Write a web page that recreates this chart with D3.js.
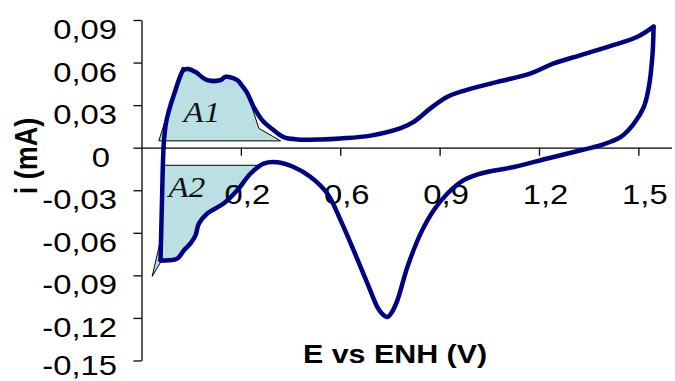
<!DOCTYPE html>
<html>
<head>
<meta charset="utf-8">
<script src="https://cdn.jsdelivr.net/npm/d3@7"></script>
<style>
  html, body { margin: 0; padding: 0; background: #fff; }
  svg { display: block; }
</style>
</head>
<body>
<svg id="chart" width="675" height="381"></svg>
<script>
// ---- Data (E in V vs ENH, i in mA) ----
const anodicE = [0.0574,0.0589,0.0619,0.065,0.068,0.0746,0.0876,0.0997,0.1148,0.1269,0.142,0.1631,0.1985,0.2387,0.2538,0.2891,0.302,0.3193,0.3384,0.3686,0.3988,0.429,0.4704,0.5408,0.6012,0.6918,0.7825,0.8218,0.8731,0.9236,0.9728,1.0746,1.1752,1.2447,1.3263,1.426,1.4976,1.5459];
const anodicI = [-0.0794,-0.0653,-0.0371,-0.0088,0.0053,0.0182,0.030,0.0385,0.049,0.0547,0.0554,0.0533,0.0476,0.0476,0.050,0.0476,0.0441,0.0385,0.0288,0.0182,0.0124,0.0074,0.0058,0.0058,0.0065,0.0085,0.0138,0.0182,0.0279,0.0359,0.0401,0.0464,0.0524,0.0594,0.0653,0.0724,0.0782,0.0853];
const cathodicE = [1.5459,1.5429,1.5317,1.5166,1.4864,1.4471,1.3867,1.3263,1.2257,1.1239,1.0242,0.9728,0.9236,0.8822,0.8429,0.8027,0.7725,0.7553,0.7423,0.7251,0.7121,0.6819,0.6405,0.6012,0.561,0.5106,0.4592,0.41,0.3686,0.3293,0.2891,0.2477,0.1985,0.1731,0.1631,0.148,0.1278,0.1079,0.0816,0.0574];
const cathodicI = [0.0853,0.0665,0.0429,0.0288,0.0170,0.0076,0.0018,-0.0018,-0.0076,-0.0136,-0.0182,-0.0229,-0.0323,-0.0441,-0.0604,-0.0841,-0.1076,-0.1161,-0.1194,-0.1168,-0.1124,-0.0956,-0.0724,-0.0512,-0.0323,-0.0206,-0.0136,-0.0102,-0.0112,-0.0182,-0.030,-0.0394,-0.0464,-0.0535,-0.0618,-0.0674,-0.0724,-0.0782,-0.0794,-0.0794];

// shaded charge areas
const a1E = [0.0523,0.123,0.142,0.1631,0.1985,0.2387,0.2538,0.2891,0.3193,0.3544,0.4199];
const a1I = [0.0048,0.0568,0.0554,0.0533,0.0483,0.0483,0.0505,0.0483,0.0385,0.0136,0.0048];
const a2E = [0.0674,0.3474,0.3293,0.2891,0.2477,0.1985,0.1731,0.1631,0.148,0.1278,0.1079,0.0725,0.0574,0.0323,0.0574,0.065];
const a2I = [-0.0124,-0.0124,-0.0182,-0.030,-0.0394,-0.0464,-0.0535,-0.0618,-0.0674,-0.0724,-0.0782,-0.0801,-0.0808,-0.0907,-0.0653,-0.030];

const xTicks = [0.3,0.6,0.9,1.2,1.5];
const xTickLabels = ["0,2","0,6","0,9","1,2","1,5"];
const yTicks = [0.09,0.06,0.03,0,-0.03,-0.06,-0.09,-0.12,-0.15];
const yTickLabels = ["0,09","0,06","0,03","0","-0,03","-0,06","-0,09","-0,12","-0,15"];

const xTitle = "E vs ENH (V)";
const yTitle = "i (mA)";

// ---- Scales ----
const SANS = "Arial, 'Liberation Sans', sans-serif";
const SERIF = "'Liberation Serif', 'Times New Roman', serif";
const svg = d3.select("#chart");
const x = d3.scaleLinear().domain([0, 1.6]).range([141.5, 671.5]);
const y = d3.scaleLinear().domain([-0.15, 0.09]).range([360.5, 20]);
const SX = 1.17; // horizontal stretch of text in reference

const zip = (a, b) => a.map((v, i) => [v, b[i]]);

// ---- Shaded areas ----
const poly = d3.line().x(d => x(d[0])).y(d => y(d[1]));
[zip(a1E, a1I), zip(a2E, a2I)].forEach(pts => {
  svg.append("path")
    .attr("d", poly(pts) + "Z")
    .attr("fill", "#bae0e4")
    .attr("stroke", "#000")
    .attr("stroke-width", 1);
});

// ---- Axes ----
const xAxis = d3.axisBottom(x)
  .tickValues(xTicks)
  .tickFormat((d, i) => xTickLabels[i])
  .tickSize(8).tickSizeOuter(0);
const gx = svg.append("g").attr("transform", `translate(0,${y(0)})`).call(xAxis);
gx.select(".domain").attr("stroke", "#000").attr("stroke-width", 1.3);
gx.selectAll(".tick line").attr("stroke", "#000").attr("stroke-width", 1.3);
gx.selectAll(".tick text")
  .style("font-family", SANS).style("font-size", "28px").attr("fill", "#000")
  .attr("text-anchor", "middle")
  .attr("x", 6 / SX).attr("y", 56).attr("dy", 0)
  .attr("transform", `scale(${SX},1)`);

const yAxis = d3.axisLeft(y)
  .tickValues(yTicks)
  .tickFormat((d, i) => yTickLabels[i])
  .tickSize(8).tickSizeOuter(0);
const gy = svg.append("g").attr("transform", `translate(${x(0)},0)`).call(yAxis);
gy.select(".domain").attr("stroke", "#000").attr("stroke-width", 1.3);
gy.selectAll(".tick line").attr("stroke", "#000").attr("stroke-width", 1.3);
gy.selectAll(".tick text")
  .style("font-family", SANS).style("font-size", "28px").attr("fill", "#000")
  .attr("text-anchor", "end")
  .attr("x", d => (d === 0 ? -31.5 : -24.5) / SX)
  .attr("y", d => (d === -0.15 ? 13.5 : 18.5)).attr("dy", 0)
  .attr("transform", `scale(${SX},1)`);

// ---- CV curve ----
const curve = d3.line().x(d => x(d[0])).y(d => y(d[1])).curve(d3.curveCatmullRom.alpha(0.5));
[zip(anodicE, anodicI), zip(cathodicE, cathodicI)].forEach(pts => {
  svg.append("path")
    .attr("d", curve(pts))
    .attr("fill", "none")
    .attr("stroke", "#000082")
    .attr("stroke-width", 4.5)
    .attr("stroke-linejoin", "round")
    .attr("stroke-linecap", "round");
});

// ---- Area labels ----
function label(txt, px, py) {
  svg.append("text")
    .attr("transform", `translate(${px},${py}) scale(1.1,1)`)
    .style("font-family", SERIF)
    .style("font-style", "italic")
    .style("font-size", "30px")
    .attr("fill", "#111")
    .text(txt);
}
label("A1", x(0.127), y(0.0182));
label("A2", x(0.0815), y(-0.0346));

// ---- Axis titles ----
svg.append("text")
  .attr("transform", `translate(395,363) scale(${SX},1)`)
  .attr("text-anchor", "middle")
  .style("font-family", SANS).style("font-weight", "bold").style("font-size", "26px")
  .attr("fill", "#000")
  .text(xTitle);

svg.append("text")
  .attr("transform", `translate(37,156) rotate(-90) scale(1,${SX})`)
  .attr("text-anchor", "middle")
  .style("font-family", SANS).style("font-weight", "bold").style("font-size", "27px")
  .attr("fill", "#000")
  .text(yTitle);
</script>
</body>
</html>
